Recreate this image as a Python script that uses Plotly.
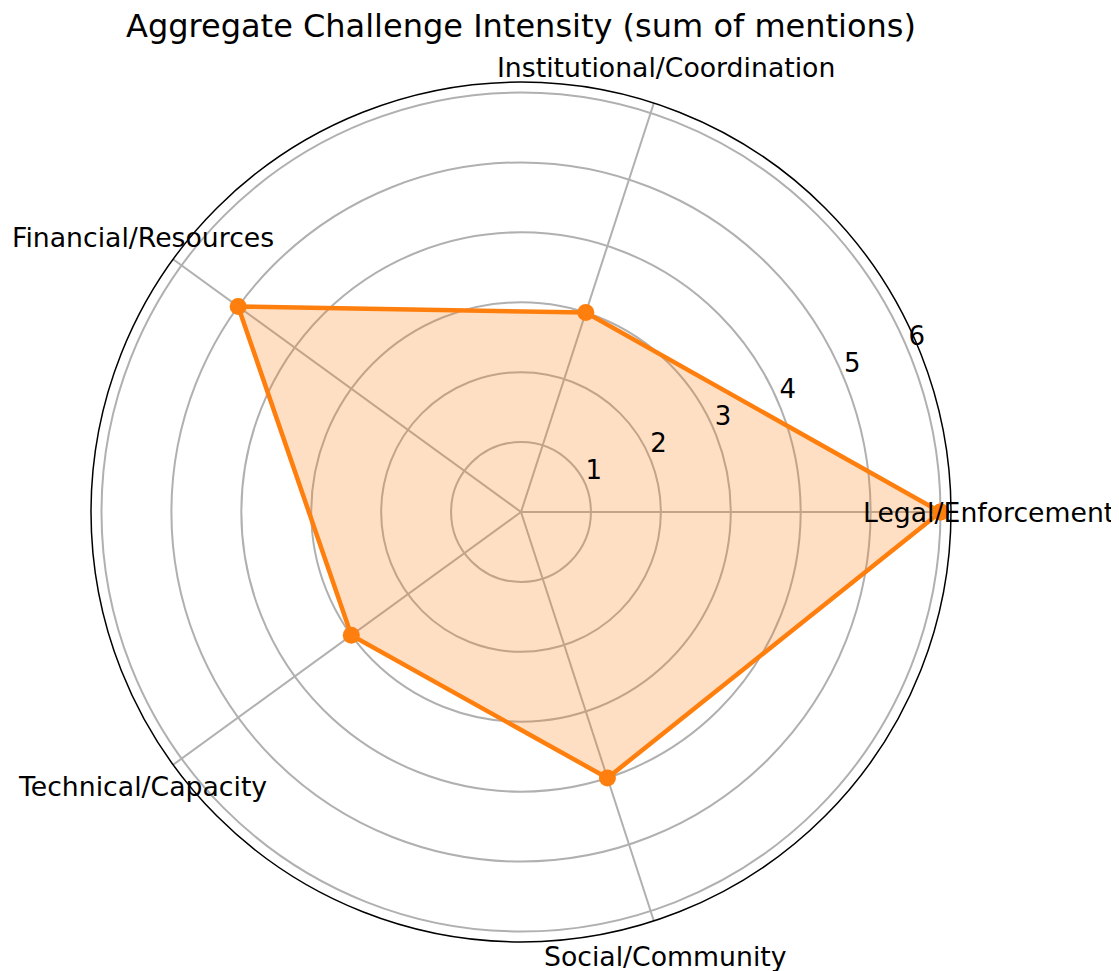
import math
import plotly.graph_objects as go

categories = ["Legal/Enforcement", "Institutional/Coordination", "Financial/Resources",
              "Technical/Capacity", "Social/Community"]
values = [6, 3, 5, 3, 4]
angles = [0, 72, 144, 216, 288]
tick_vals = [1, 2, 3, 4, 5, 6]

orange = "#ff7f0e"
W, H = 1119, 971
# polar centre and outer radius in px (page has an 8px body margin)
CX, CY, R = 513, 504, 430
RMAX = 6.15
LABEL_R = 6.69
RLABEL_ANGLE = 22.5

fig = go.Figure()

# polygon, closed back to the first point
fig.add_trace(go.Scatterpolar(
    r=values + values[:1],
    theta=angles + angles[:1],
    mode="lines+markers",
    line=dict(color=orange, width=4.5),
    marker=dict(size=17, color=orange),
    fill="toself",
    fillcolor="rgba(255,127,14,0.25)",
    cliponaxis=False,
    showlegend=False,
))

# radial tick labels, matplotlib style (offset outward from the 22.5 deg line)
fig.add_trace(go.Scatterpolar(
    r=tick_vals,
    theta=[RLABEL_ANGLE] * len(tick_vals),
    mode="text",
    text=[str(v) for v in tick_vals],
    textposition="top right",
    textfont=dict(size=26, color="black", family="DejaVu Sans"),
    cliponaxis=False,
    showlegend=False,
    hoverinfo="skip",
))

# category labels just outside the outer ring, centred like matplotlib
for cat, a in zip(categories, angles):
    rad = math.radians(a)
    px_ = CX + LABEL_R / RMAX * R * math.cos(rad)
    py_ = CY - LABEL_R / RMAX * R * math.sin(rad)
    fig.add_annotation(
        text=cat, x=px_ / W, y=1 - py_ / H, xref="paper", yref="paper",
        xanchor="center", yanchor="middle", showarrow=False,
        font=dict(size=26.7, color="black", family="DejaVu Sans"),
    )

fig.update_layout(
    width=W,
    height=H,
    margin=dict(l=0, r=0, t=0, b=0),
    paper_bgcolor="white",
    font=dict(family="DejaVu Sans", size=26, color="black"),
    title=dict(text="Aggregate Challenge Intensity (sum of mentions)",
               x=CX / W, xanchor="center", y=1 - 18 / H, yanchor="middle",
               font=dict(size=32, family="DejaVu Sans", color="black")),
    polar=dict(
        domain=dict(x=[(CX - R) / W, (CX + R) / W],
                    y=[(H - CY - R) / H, (H - CY + R) / H]),
        bgcolor="white",
        radialaxis=dict(
            range=[0, RMAX],
            tickvals=tick_vals,
            angle=RLABEL_ANGLE,
            showticklabels=False,
            showline=False,
            ticks="",
            gridcolor="#b0b0b0",
            gridwidth=1.5,
        ),
        angularaxis=dict(
            thetaunit="degrees",
            rotation=0,
            direction="counterclockwise",
            tickvals=angles,
            showticklabels=False,
            ticks="",
            gridcolor="#b0b0b0",
            gridwidth=1.5,
            showline=True,
            linecolor="black",
            linewidth=1.5,
        ),
    ),
)

fig.write_html("out.html")
